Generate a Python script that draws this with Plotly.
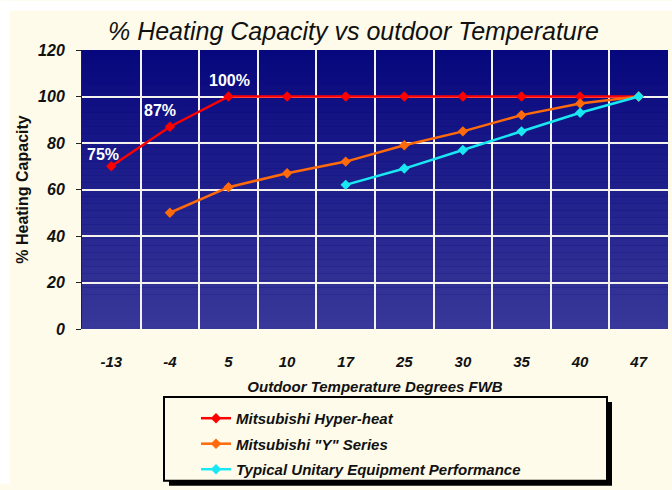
import plotly.graph_objects as go

categories = ["-13", "-4", "5", "10", "17", "25", "30", "35", "40", "47"]
hyper_heat = [70, 87, 100, 100, 100, 100, 100, 100, 100, 100]
y_series = [None, 50, 61, 67, 72, 79, 85, 92, 97, 100]
typical = [None, None, None, None, 62, 69, 77, 85, 93, 100]
y_ticks = [0, 20, 40, 60, 80, 100, 120]
pct_labels = [("-13", 70, "75%"), ("-4", 87, "87%"), ("5", 100, "100%")]

W, H = 672, 490
L, R, T, B = 82, 4, 50, 157
PW, PH = W - L - R, H - T - B

def px(x):
    return (x - L) / PW

def py(y):
    return (H - B - y) / PH

CREAM = "#FEFBEA"
FONT = "Liberation Sans"

fig = go.Figure()

series = [
    ("<b><i>Mitsubishi Hyper-heat</i></b>", hyper_heat, "#FF0000"),
    ("<b><i>Mitsubishi \"Y\" Series</i></b>", y_series, "#FF6A0A"),
    ("<b><i>Typical Unitary Equipment Performance</i></b>", typical, "#19E8F2"),
]
for i, (name, vals, col) in enumerate(series):
    fig.add_trace(go.Scatter(
        x=categories, y=vals, name=name, mode="lines+markers",
        line=dict(color=col, width=2.5),
        marker=dict(symbol="diamond", size=8, color=col),
        legendgroup="g%d" % i, connectgaps=False,
    ))

shapes = []
n = 40
c0 = (8, 8, 126)
c1 = (56, 56, 154)
for i in range(n):
    t = i / (n - 1)
    r = int(c0[0] + (c1[0] - c0[0]) * t)
    g = int(c0[1] + (c1[1] - c0[1]) * t)
    b = int(c0[2] + (c1[2] - c0[2]) * t)
    shapes.append(dict(type="rect", xref="paper", yref="paper",
                       x0=0, x1=1, y0=1 - (i + 1) / n, y1=1 - i / n,
                       fillcolor="rgb(%d,%d,%d)" % (r, g, b),
                       line=dict(width=0), layer="below"))
shapes.append(dict(type="rect", xref="paper", yref="paper",
                   x0=px(0), x1=px(10), y0=py(H), y1=py(0),
                   fillcolor="white", line=dict(width=0), layer="below"))
shapes.append(dict(type="rect", xref="paper", yref="paper",
                   x0=px(0), x1=px(W), y0=py(10), y1=py(0),
                   fillcolor="white", line=dict(width=0), layer="below"))
shapes.append(dict(type="rect", xref="paper", yref="paper",
                   x0=px(169), x1=px(612), y0=py(492), y1=py(407),
                   fillcolor="black", line=dict(width=0), layer="below"))
shapes.append(dict(type="rect", xref="paper", yref="paper",
                   x0=px(164), x1=px(607), y0=py(487), y1=py(402),
                   fillcolor=CREAM, line=dict(color="black", width=2), layer="below"))

annotations = []
offs = {"75%": (-8, 12), "87%": (-10, 16), "100%": (1, 16)}
for cat, val, txt in pct_labels:
    annotations.append(dict(x=categories.index(cat), y=val, text="<b>%s</b>" % txt,
                            showarrow=False, xshift=offs[txt][0], yshift=offs[txt][1],
                            font=dict(family=FONT, size=16, color="white")))

fig.update_layout(
    width=W, height=H,
    margin=dict(l=L, r=R, t=T, b=B),
    paper_bgcolor=CREAM,
    plot_bgcolor="#0A0A80",
    title=dict(text="<i>% Heating Capacity vs outdoor Temperature</i>",
               x=(105 + 602) / 2 / W, xanchor="center", y=1 - 31 / H, yanchor="middle",
               font=dict(family=FONT, size=25, color="#111111")),
    xaxis=dict(type="category", categoryorder="array", categoryarray=categories,
               range=[-0.5, len(categories) - 0.5],
               tickson="boundaries", showgrid=True, gridcolor="#F4F2EC", gridwidth=2,
               ticks="", ticklabelstandoff=22, tickangle=0,
               tickfont=dict(family=FONT, size=15, color="#111111"),
               tickvals=categories,
               ticktext=["<b><i>%s</i></b>" % c for c in categories],
               showline=False, zeroline=False,
               title=dict(text="<b><i>Outdoor Temperature Degrees FWB</i></b>",
                          font=dict(family=FONT, size=15, color="#111111"), standoff=12)),
    yaxis=dict(range=[0, 120], tickvals=y_ticks,
               ticktext=["<b><i>%d</i></b>" % v for v in y_ticks],
               showgrid=True, gridcolor="#F4F2EC", gridwidth=2,
               ticks="outside", ticklen=5, tickcolor="#222222",
               ticklabelstandoff=8,
               tickfont=dict(family=FONT, size=16, color="#111111"),
               showline=True, linecolor="#222222", linewidth=1, zeroline=False,
               title=dict(text="<b>% Heating Capacity</b>",
                          font=dict(family=FONT, size=16, color="#111111"), standoff=5)),
    legend=dict(x=px(196), xanchor="left", y=py(407), yanchor="top",
                bgcolor="rgba(0,0,0,0)", borderwidth=0,
                traceorder="grouped", tracegroupgap=3,
                font=dict(family=FONT, size=15, color="#111111")),
    shapes=shapes,
    annotations=annotations,
    showlegend=True,
)

fig.write_html("out.html")
